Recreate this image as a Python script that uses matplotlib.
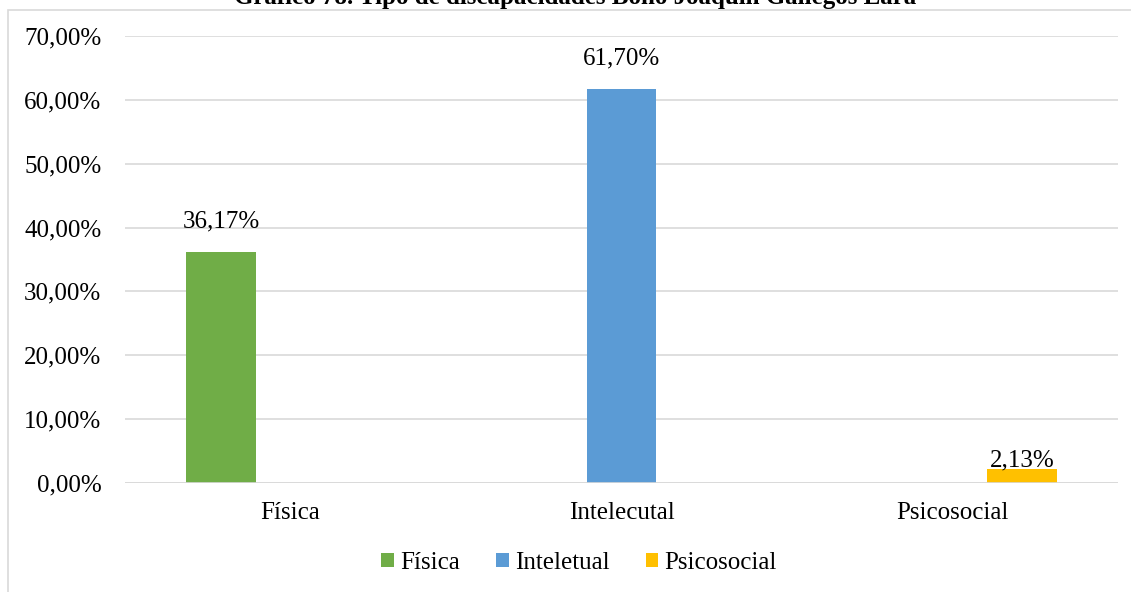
import matplotlib
matplotlib.use("Agg")
import matplotlib.pyplot as plt
from matplotlib.patches import Rectangle
import numpy as np

categories = ["Física", "Intelecutal", "Psicosocial"]
series_names = ["Física", "Inteletual", "Psicosocial"]
series_values = [
    [36.17, 0, 0],
    [0, 61.70, 0],
    [0, 0, 2.13],
]
label_texts = ["36,17%", "61,70%", "2,13%"]
yticks = [0, 10, 20, 30, 40, 50, 60, 70]
ytick_labels = ["0,00%", "10,00%", "20,00%", "30,00%", "40,00%", "50,00%", "60,00%", "70,00%"]
colors = ["#70AD47", "#5B9BD5", "#FFC000"]
title = "Gráfico 78. Tipo de discapacidades Bono Joaquín Gallegos Lara"

plt.rcParams['font.family'] = ['Liberation Serif', 'DejaVu Serif']
fs = 18

fig = plt.figure(figsize=(11.31, 5.92), dpi=100)
W, H = 1131, 592
ax = fig.add_axes([125 / W, 1 - 483 / H, (1118 - 125) / W, (483 - 36) / H])

# chart frame
fig.patches.append(Rectangle((8 / W, -0.05), 1.2, 1 - 10 / H + 0.05, transform=fig.transFigure,
                             fill=False, edgecolor="#D9D9D9", linewidth=1.2))

x = np.arange(len(categories))
w = 0.21
label_offsets = [25, 25, 3]
for j, (name, vals, c) in enumerate(zip(series_names, series_values, colors)):
    pos = x + (j - 1) * w
    ax.bar(pos, vals, width=w, color=c, label=name, zorder=3)
    v = vals[j]
    ax.annotate(label_texts[j], (pos[j], v), xytext=(0, label_offsets[j] * 0.72),
                textcoords="offset points", ha="center", va="baseline", fontsize=fs)

ax.set_xlim(-0.5, 2.5)
ax.set_ylim(0, 70)
ax.set_yticks(yticks)
ax.set_yticklabels(ytick_labels, fontsize=fs)
ax.set_xticks(x)
ax.set_xticklabels(categories, fontsize=fs)
ax.tick_params(axis="y", length=0, pad=17)
ax.tick_params(axis="x", length=0, pad=14)
ax.grid(axis="y", color="#D9D9D9", linewidth=1.2, zorder=0)
for s in ax.spines.values():
    s.set_visible(False)
ax.axhline(0, color="#D9D9D9", linewidth=1.2, zorder=4)

fig.text(575 / W, 1 - 4 / H, title, ha="center", va="baseline", fontsize=fs, fontweight="bold")

leg = fig.legend(loc="center", bbox_to_anchor=(579 / W, 1 - 563 / H), ncol=3, frameon=False,
                 fontsize=fs, handlelength=0.5, handleheight=0.5, handletextpad=0.25,
                 columnspacing=1.45)

fig.savefig("out.png", dpi=100)
